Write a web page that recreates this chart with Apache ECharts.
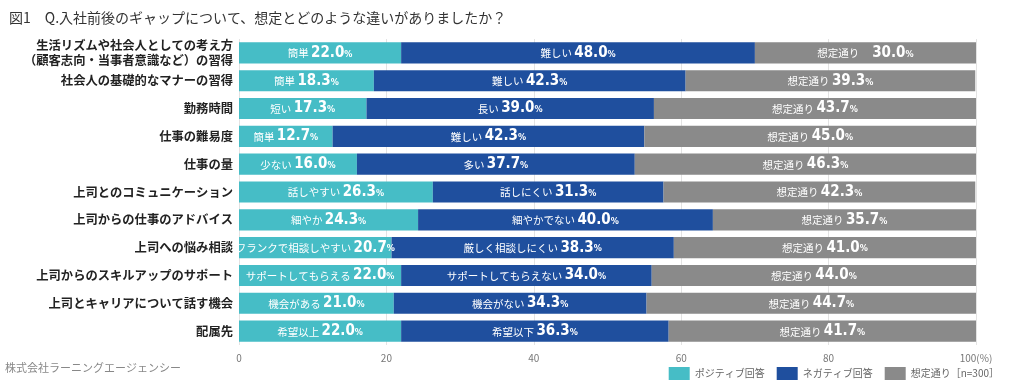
<!DOCTYPE html>
<html><head><meta charset="utf-8">
<script src="https://cdn.jsdelivr.net/npm/echarts@6/dist/echarts.min.js"></script>
<style>html,body{margin:0;padding:0;background:#fff}#c{width:1020px;height:384px}</style>
</head><body><div id="c"></div>
<script>
const categories = [
  '生活リズムや社会人としての考え方\n（顧客志向・当事者意識など）の習得',
  '社会人の基礎的なマナーの習得',
  '勤務時間',
  '仕事の難易度',
  '仕事の量',
  '上司とのコミュニケーション',
  '上司からの仕事のアドバイス',
  '上司への悩み相談',
  '上司からのスキルアップのサポート',
  '上司とキャリアについて話す機会',
  '配属先'
];
const positiveValues = [22.0, 18.3, 17.3, 12.7, 16.0, 26.3, 24.3, 20.7, 22.0, 21.0, 22.0];
const negativeValues = [48.0, 42.3, 39.0, 42.3, 37.7, 31.3, 40.0, 38.3, 34.0, 34.3, 36.3];
const asExpectedValues = [30.0, 39.3, 43.7, 45.0, 46.3, 42.3, 35.7, 41.0, 44.0, 44.7, 41.7];
const positiveWords = ['簡単', '簡単', '短い', '簡単', '少ない', '話しやすい', '細やか', 'フランクで相談しやすい', 'サポートしてもらえる', '機会がある', '希望以上'];
const negativeWords = ['難しい', '難しい', '長い', '難しい', '多い', '話しにくい', '細やかでない', '厳しく相談しにくい', 'サポートしてもらえない', '機会がない', '希望以下'];
const expectedWord = '想定通り';
const seriesNames = ['ポジティブ回答', 'ネガティブ回答', '想定通り［n=300］'];
const xTicks = [0, 20, 40, 60, 80, 100];

const numFont = '"Liberation Sans Narrow","DejaVu Sans Condensed",sans-serif';
const rich = {
  w: {fontSize: 10.5, color: '#fff', fontFamily: '"Noto Sans CJK JP",sans-serif', padding:[1,0,0,0]},
  n: {fontSize: 15, color: '#fff', fontWeight: 'bold', fontFamily: numFont},
  p: {fontSize: 9, color: '#fff', fontWeight: 'bold', fontFamily: numFont, padding:[3,0,0,0]}
};
function mk(name, vals, words, color, gap) {
  return {
    name, type: 'bar', stack: 'a', barCategoryGap: '24%',
    data: vals, itemStyle: {color},
    label: {show: true, position: 'inside', rich,
      formatter: p => '{w|' + (typeof words === 'string' ? words : words[p.dataIndex]) + (gap && p.dataIndex===0 ? '　 ' : ' ') + '}{n|' + p.value.toFixed(1) + '}{p|%}'}
  };
}
const chart = echarts.init(document.getElementById('c'));
chart.setOption({
  animation: false,
  title: {text: '図1　Q.入社前後のギャップについて、想定とどのような違いがありましたか？', left: 4, top: 6,
    textStyle: {fontSize: 14, fontWeight: 'normal', color: '#333', fontFamily: '"Noto Sans CJK JP",sans-serif'}},
  graphic: [{type: 'text', left: 5, top: 362, style: {text: '株式会社ラーニングエージェンシー', fill: '#888', fontSize: 11, fontFamily: '"Noto Sans CJK JP",sans-serif'}}],
  legend: {right: 16, top: 362, itemWidth: 21, itemHeight: 13, itemGap: 12, icon: 'rect',
    textStyle: {fontSize: 10, color: '#666', fontFamily: '"Noto Sans CJK JP",sans-serif'}},
  grid: {left: 239, right: 44, top: 39, bottom: 39, containLabel: false},
  xAxis: {type: 'value', min: 0, max: 100, interval: 20,
    axisLabel: {color: '#777', fontSize: 10, formatter: v => v === 100 ? '100(%)' : String(v), margin: 8, fontFamily: '"Noto Sans CJK JP",sans-serif'},
    splitLine: {lineStyle: {color: '#e3e3e3'}}, axisLine: {show: false}, axisTick: {show: false}},
  yAxis: {type: 'category', data: categories, inverse: true,
    axisLine: {show: false}, axisTick: {show: false},
    axisLabel: {color: '#222', fontSize: 12.3, fontWeight: 'bold', margin: 6, lineHeight: 15, fontFamily: '"Noto Sans CJK JP",sans-serif'}},
  series: [
    mk(seriesNames[0], positiveValues, positiveWords, '#46BDC6'),
    mk(seriesNames[1], negativeValues, negativeWords, '#1F4F9E'),
    mk(seriesNames[2], asExpectedValues, expectedWord, '#8A8A8A', true)
  ]
});
</script></body></html>
